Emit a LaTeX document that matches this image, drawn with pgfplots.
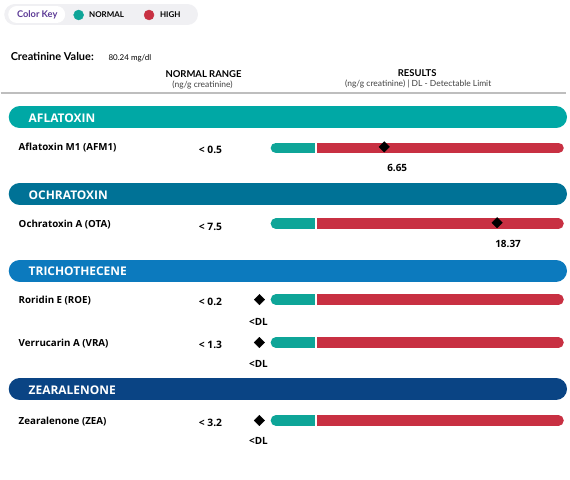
\documentclass[border=0pt]{standalone}
\usepackage{pgfplots}
\pgfplotsset{compat=1.18}
\usepackage{fontspec}
\setmainfont{Open Sans}
\newfontfamily\lato{Lato}
\definecolor{bandA}{RGB}{0,168,165}
\definecolor{bandO}{RGB}{0,114,150}
\definecolor{bandT}{RGB}{12,122,190}
\definecolor{bandZ}{RGB}{10,68,132}
\definecolor{normal}{RGB}{14,165,152}
\definecolor{high}{RGB}{200,48,66}
\definecolor{keybg}{RGB}{240,240,243}
\definecolor{keytxt}{RGB}{92,58,150}
\definecolor{rulec}{RGB}{190,190,190}
\begin{document}
\begin{tikzpicture}
\begin{axis}[width=570bp, height=480bp, scale only axis,
  xmin=0, xmax=570, ymin=0, ymax=480, y dir=reverse,
  hide axis, clip=false]
\addplot[draw=none] coordinates {(0,0) (570,480)};
% colour key
\addplot[keybg, line width=21bp, line cap=round] coordinates {(14,14.5) (187,14.5)};
\addplot[white, line width=17bp, line cap=round] coordinates {(16,14.5) (56,14.5)};
\addplot[only marks, mark=*, mark size=5bp, normal] coordinates {(78,15)};
\addplot[only marks, mark=*, mark size=5bp, high] coordinates {(148.5,15)};
\node[anchor=center, text=keytxt, font=\lato\bfseries\fontsize{9.3}{10}\selectfont] at (axis cs:36.5,15) {Color Key};
\node[anchor=west, font=\lato\bfseries\fontsize{8}{9}\selectfont] at (axis cs:85,15) {NORMAL};
\node[anchor=west, font=\lato\bfseries\fontsize{8}{9}\selectfont] at (axis cs:156,15) {HIGH};
% creatinine
\node[anchor=west, font=\lato\bfseries\fontsize{11}{12}\selectfont] at (axis cs:6.5,57) {Creatinine Value:};
\node[anchor=west, font=\lato\fontsize{8}{9}\selectfont] at (axis cs:104.5,58) {80.24 mg/dl};
\node[anchor=center, font=\lato\bfseries\fontsize{9.5}{10}\selectfont] at (axis cs:203,74) {NORMAL RANGE};
\node[anchor=center, text=black!75, font=\lato\fontsize{8.5}{9}\selectfont] at (axis cs:202,85.5) {(ng/g creatinine)};
\node[anchor=center, font=\lato\bfseries\fontsize{9.5}{10}\selectfont] at (axis cs:417,73.5) {RESULTS};
\node[anchor=center, text=black!75, font=\lato\fontsize{8.5}{9}\selectfont] at (axis cs:418,84.5) {(ng/g creatinine) | DL - Detectable Limit};
\addplot[rulec, line width=1.5bp] coordinates {(0,93) (566,93)};
% group bands
\addplot[bandA, line width=22bp, line cap=round] coordinates {(19,117.5) (556,117.5)};
\addplot[bandO, line width=22bp, line cap=round] coordinates {(19,194) (556,194)};
\addplot[bandT, line width=22bp, line cap=round] coordinates {(19,271) (556,271)};
\addplot[bandZ, line width=22bp, line cap=round] coordinates {(19,389.5) (556,389.5)};
\node[anchor=west, text=white, font=\bfseries\fontsize{12}{13}\selectfont] at (axis cs:24.5,118) {AFLATOXIN};
\node[anchor=west, text=white, font=\bfseries\fontsize{12}{13}\selectfont] at (axis cs:24.5,195) {OCHRATOXIN};
\node[anchor=west, text=white, font=\bfseries\fontsize{12}{13}\selectfont] at (axis cs:24.5,272) {TRICHOTHECENE};
\node[anchor=west, text=white, font=\bfseries\fontsize{12}{13}\selectfont] at (axis cs:24.5,390.5) {ZEARALENONE};
% result bars
\pgfplotsinvokeforeach{148,224,300,343,421}{
  \addplot[normal, line width=10.5bp, line cap=round] coordinates {(275.5,#1) (280,#1)};
  \addplot[normal, line width=10.5bp] coordinates {(275.5,#1) (315,#1)};
  \addplot[high, line width=10.5bp] coordinates {(317,#1) (558,#1)};
  \addplot[high, line width=10.5bp, line cap=round] coordinates {(553,#1) (558.5,#1)};
}
% row labels and normal ranges
\node[anchor=west, font=\bfseries\fontsize{9.8}{11}\selectfont] at (axis cs:14.5,148) {Aflatoxin M1 (AFM1)};
\node[anchor=west, font=\bfseries\fontsize{9.8}{11}\selectfont] at (axis cs:14.5,225) {Ochratoxin A (OTA)};
\node[anchor=west, font=\bfseries\fontsize{9.8}{11}\selectfont] at (axis cs:14.5,301) {Roridin E (ROE)};
\node[anchor=west, font=\bfseries\fontsize{9.8}{11}\selectfont] at (axis cs:14.5,344) {Verrucarin A (VRA)};
\node[anchor=west, font=\bfseries\fontsize{9.8}{11}\selectfont] at (axis cs:14.5,422) {Zearalenone (ZEA)};
\addplot[draw=none, nodes near coords, point meta=explicit symbolic,
  nodes near coords style={anchor=center, font=\bfseries\fontsize{10.3}{11}\selectfont}]
  coordinates {(210,150) [< 0.5] (210,227) [< 7.5] (210,302) [< 0.2] (210,345) [< 1.3] (210,423) [< 3.2]};
% result markers
\addplot[only marks, black, mark=square*, mark size=3.7bp, mark options={rotate=45}]
  coordinates {(384,147) (497,223) (259,300) (259,343) (259,421)};
\addplot[draw=none, nodes near coords, point meta=explicit symbolic,
  nodes near coords style={anchor=center, font=\bfseries\fontsize{10}{11}\selectfont}]
  coordinates {(397,168) [6.65] (508,244) [18.37] (258,322) [<DL] (258,364) [<DL] (258,442) [<DL]};
\end{axis}
\end{tikzpicture}
\end{document}
